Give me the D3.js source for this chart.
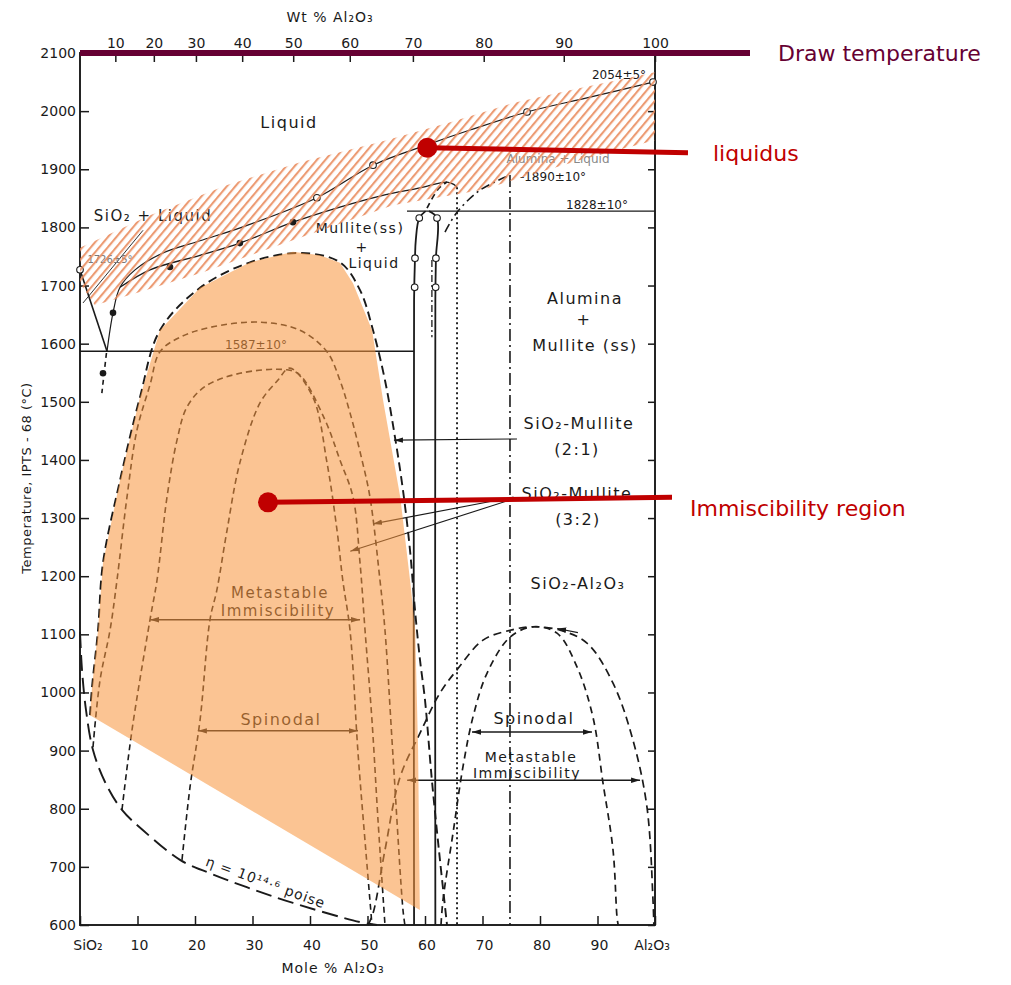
<!DOCTYPE html>
<html><head><meta charset="utf-8">
<script src="https://cdn.jsdelivr.net/npm/d3@7"></script>
<style>
body{margin:0;background:#fff;}
svg{display:block;}
text{font-family:"DejaVu Sans",sans-serif;}
</style></head><body>
<svg id="chart" width="1011" height="985"></svg>
<script>
// ---- Axis values --------------------------------------------------------
const molTicks = [0,10,20,30,40,50,60,70,80,90,100];
const molLabels = ["SiO₂","10","20","30","40","50","60","70","80","90","Al₂O₃"];
const tempTicks = [600,700,800,900,1000,1100,1200,1300,1400,1500,1600,1700,1800,1900,2000,2100];
const wtTicks = [10,20,30,40,50,60,70,80,90,100];

// ---- Curves, as [mol % Al2O3, temperature °C] ----------------------------
const liquidusBand = [[0,1765],[12.2,1821],[25.6,1873],[38.3,1912],[52.2,1947],[64.4,1981],[75.3,2014],[87.0,2040],[100,2067],
  [100,1950],[87.0,1916],[69.6,1864],[54.4,1838],[37.0,1778],[21.4,1723],[10.4,1689],[2.6,1666],[0,1704]];
const aluminaLiquidus = [[99.65,2050],[88.7,2024],[77.74,1998.5],[67.83,1967.5],[60.35,1942],[50.96,1907],[41.2,1851],
  [28.35,1801],[20.87,1777],[14.43,1756],[9.57,1727],[6.96,1697],[5.74,1653],[4.7,1587]];
const mulliteLiquidus = [[6.96,1697],[12.17,1727],[20.87,1752],[27.8,1773],[37.04,1809],[45.2,1835],[52.17,1854],
  [59.13,1868],[63.83,1878],[65.0,1874],[65.57,1869]];
const silicaLiquidus = [[0,1727],[4.7,1587]];
const silicaExtension = [[4.6,1584],[3.8,1515]];
const silicaLeader = [[0.52,1670],[10.96,1795]];
const mulliteMelt = [[60.35,1833],[62.3,1866],[63.83,1878]];
const metastableAlumina = [[63.48,1792],[65.57,1826],[69.57,1864],[74.78,1890]];
const eutectic = [[0,1587],[58.1,1587]];
const peritectic = [[56.87,1828],[100,1828]];
const mulliteLeft = [[60.1,1828],[59.0,1816],[58.4,1778],[58.26,1747],[58.1,1675],[58.1,600]];
const mulliteRight = [[60.7,1828],[62.09,1816],[61.9,1747],[61.8,1675],[61.8,600]];
const mulliteCenter = [[61.2,1744],[61.2,1611]];
const dottedVertical = [[65.57,1869],[65.57,600]];
const dashDotVertical = [[74.78,1890],[74.78,600]];

// immiscibility domes
const dome21 = [[1.74,961],[2.09,1009],[3.13,1107],[4.0,1223],[6.96,1365],[10.43,1508],[13.9,1623],[20.87,1696],
  [29.57,1740],[38.26,1756],[45.2,1740],[48.7,1692],[50.96,1623],[53.04,1537],[54.8,1438],[56.17,1348],[57.39,1245],
  [58.26,1142],[59.13,1056],[60.0,987],[61.2,849],[62.6,712],[63.83,600]];
const dome32 = [[2.26,906],[3.48,1021],[5.22,1107],[6.43,1193],[8.17,1336],[9.9,1451],[12.17,1529],[13.9,1586],
  [17.39,1611],[22.6,1628],[31.3,1637],[38.26,1623],[42.96,1586],[45.2,1537],[46.96,1481],[49.04,1400],[50.43,1336],
  [52.17,1193],[53.04,1107],[54.4,896],[56.17,626],[56.5,600]];
const spinodal21 = [[7.3,798],[9.04,935],[12.17,1125],[13.39,1193],[15.13,1336],[16.87,1434],[18.6,1491],[21.7,1526],
  [27.8,1549],[36.0,1555],[38.26,1546],[42.6,1469],[45.2,1400],[47.48,1336],[48.7,1223],[49.57,1107],[50.78,952],
  [51.83,780],[53.04,600]];
const spinodal32 = [[17.74,712],[19.13,837],[20.87,952],[22.6,1125],[23.8,1176],[25.57,1279],[27.8,1395],[31.3,1498],
  [34.4,1537],[36.5,1558],[40.5,1508],[42.96,1395],[44.7,1279],[45.7,1193],[46.96,1107],[48.35,896],[49.74,724],[50.78,600]];
const binodalAl = [[50.09,600],[50.96,620],[53.04,729],[55.65,854],[59.13,930],[62.6,999],[65.57,1039],[70.09,1090],
  [74.78,1107],[78.78,1113],[83.5,1107],[88.17,1085],[92.7,1016],[96.17,918],[98.6,803],[99.65,643],[99.8,600]];
const spinodalAl = [[62.78,600],[63.13,643],[64.87,758],[66.6,872],[68.35,958],[70.78,1033],[74.78,1095],[78.78,1113],
  [82.96,1102],[86.43,1044],[89.2,958],[90.96,844],[92.7,729],[93.39,614],[93.6,600]];
const isokom = [[0,1104],[0.35,1039],[1.04,970],[2.26,901],[4.35,846],[7.3,798],[10.96,763],[17.39,712],[22.6,689],
  [29.0,665],[37.04,638],[48.7,605],[51.65,600]];
const immiscibleRegion = [[1.74,961],[2.09,1009],[3.13,1107],[4.0,1223],[6.96,1365],[10.43,1508],[13.9,1623],
  [20.87,1696],[29.57,1740],[37.04,1758],[41.74,1752],[45.2,1739],[47.48,1704],[50.8,1623],[52.7,1503],[55.7,1336],
  [57.4,1193],[58.3,1107],[58.8,901],[59.1,626]];

// point markers
const openPoints = [[0,1727],[99.65,2050],[77.74,1998.5],[60.35,1942],[50.96,1907],[41.2,1851],
  [59.0,1816],[58.26,1747],[58.2,1697],[62.09,1816],[61.9,1747],[61.85,1697]];
const solidPoints = [[5.74,1653],[4.0,1549],[15.65,1732],[27.8,1773],[37.04,1809]];

// double-headed dimension arrows [from, to]
const arrows = [
  [[12.17,1125],[48.7,1125]],
  [[20.5,934],[48.35,934]],
  [[68.17,932],[89.04,932]],
  [[56.9,849],[97.4,849]]
];
// label leader lines, arrowhead at the curve end
const leaders = [
  [[76.0,1436],[54.6,1434]],
  [[75.4,1336],[50.96,1290]],
  [[75.4,1333],[47.0,1243]],
  [[86.6,1103],[83.0,1110]]
];

// ---- Layout ------------------------------------------------------------
const svg = d3.select("#chart");
const x = d3.scaleLinear().domain([0,100]).range([80,655]);
const y = d3.scaleLinear().domain([600,2100]).range([925,53]);
const ink = "#1a1a1a";

function wtToMol(w){ const a = w/101.96, s = (100-w)/60.08; return 100*a/(a+s); }

const smooth = d3.line().x(d=>x(d[0])).y(d=>y(d[1])).curve(d3.curveCatmullRom.alpha(0.5));
const straight = d3.line().x(d=>x(d[0])).y(d=>y(d[1]));

const defs = svg.append("defs");
defs.append("marker").attr("id","arr").attr("viewBox","0 0 10 6").attr("refX",10).attr("refY",3)
  .attr("markerWidth",9).attr("markerHeight",6).attr("markerUnits","userSpaceOnUse")
  .attr("orient","auto-start-reverse")
  .append("path").attr("d","M0,0 L10,3 L0,6 Z").attr("fill",ink);
const hatch = defs.append("pattern").attr("id","hatch").attr("patternUnits","userSpaceOnUse")
  .attr("width",6.5).attr("height",6.5).attr("patternTransform","rotate(40)");
hatch.append("rect").attr("width",2.1).attr("height",6.5).attr("fill","#e9895a");

// ---- Frame and axes ------------------------------------------------------
const axisStyle = g => {
  g.select(".domain").remove();
  g.selectAll(".tick line").attr("stroke",ink).attr("stroke-width",1.5);
  g.selectAll(".tick text").attr("fill",ink).style("font-size","14px").style("font-family","DejaVu Sans");
};
svg.append("g").attr("transform","translate(80,0)")
  .call(d3.axisLeft(y).tickValues(tempTicks).tickSize(-9).tickPadding(4).tickFormat(d3.format("d"))).call(axisStyle);
svg.append("g").attr("transform","translate(655,0)")
  .call(d3.axisRight(y).tickValues(tempTicks).tickSize(-7).tickFormat("")).call(axisStyle);
svg.append("g").attr("transform","translate(0,925)")
  .call(d3.axisBottom(x).tickValues(molTicks).tickSize(-9).tickFormat("")).call(axisStyle);
svg.append("g").attr("transform","translate(0,53)")
  .call(d3.axisTop(x).tickValues(wtTicks.map(wtToMol)).tickSize(-9).tickPadding(5).tickFormat((d,i)=>wtTicks[i]))
  .call(axisStyle);

svg.append("g").selectAll("text").data(molTicks).join("text")
  .attr("x",(d,i)=> x(d) + (i===0 ? 8 : i===molTicks.length-1 ? -3 : 2)).attr("y",950)
  .attr("text-anchor","middle").attr("fill",ink).style("font-size","14px")
  .text((d,i)=>molLabels[i]);

svg.append("rect").attr("x",x(0)).attr("y",y(2100)).attr("width",x(100)-x(0)).attr("height",y(600)-y(2100))
  .attr("fill","none").attr("stroke",ink).attr("stroke-width",1.9);

svg.append("text").attr("x",330).attr("y",22).attr("text-anchor","middle").attr("fill",ink)
  .style("font-size","14px").style("letter-spacing","1px").text("Wt % Al₂O₃");
svg.append("text").attr("x",333).attr("y",973).attr("text-anchor","middle").attr("fill",ink)
  .style("font-size","14px").style("letter-spacing","1px").text("Mole % Al₂O₃");
svg.append("text").attr("transform","translate(31,478) rotate(-90)").attr("text-anchor","middle").attr("fill",ink)
  .style("font-size","13px").style("letter-spacing","0.5px").text("Temperature, IPTS - 68 (°C)");

// ---- Phase boundaries ----------------------------------------------------
const lines = svg.append("g").attr("fill","none").attr("stroke",ink);
function draw(data, gen, width, dash){
  lines.append("path").attr("d",gen(data)).attr("stroke-width",width).attr("stroke-dasharray",dash||null);
}
draw(aluminaLiquidus, smooth, 1.2);
draw(mulliteLiquidus, smooth, 1.3);
draw(silicaLiquidus, straight, 1.6);
draw(silicaExtension, straight, 1.6, "5,4");
draw(silicaLeader, straight, 0.9);
draw(mulliteMelt, smooth, 1.7, "6,4");
draw(metastableAlumina, smooth, 1.6, "9,4,2,4");
draw(eutectic, straight, 1.4);
draw(peritectic, straight, 1.4);
draw(mulliteLeft, smooth, 1.8);
draw(mulliteRight, smooth, 1.8);
draw(mulliteCenter, straight, 1.3, "7,3,2,3");
draw(dottedVertical, straight, 1.9, "2,3");
draw(dashDotVertical, straight, 1.6, "12,4,2,4");
draw(dome21, smooth, 1.9, "9,5");
draw(dome32, smooth, 1.6, "6,4");
draw(spinodal21, smooth, 1.6, "6,4");
draw(spinodal32, smooth, 1.6, "6,4");
draw(binodalAl, smooth, 1.7, "8,5");
draw(spinodalAl, smooth, 1.7, "7,5");
draw(isokom, smooth, 1.9, "16,7");

lines.selectAll(".arrow").data(arrows).join("path").attr("class","arrow")
  .attr("d",d=>straight(d)).attr("stroke-width",1.5)
  .attr("marker-start","url(#arr)").attr("marker-end","url(#arr)");
lines.selectAll(".leader").data(leaders).join("path").attr("class","leader")
  .attr("d",d=>straight(d)).attr("stroke-width",1.1).attr("marker-end","url(#arr)");

// ---- Region labels -------------------------------------------------------
const labels = [
  ["Liquid", 289, 128, 16, ink],
  ["SiO₂ + Liquid", 153, 221, 15, ink],
  ["1726±5°", 110, 263, 10, "#777"],
  ["Mullite(ss)", 360, 233, 14, ink],
  ["+", 362, 252, 14, ink],
  ["Liquid", 374, 268, 14, ink],
  ["Alumina + Liquid", 558, 163, 12, "#888"],
  ["-1890±10°", 553, 181, 12, ink],
  ["1828±10°", 597, 209, 12, ink],
  ["2054±5°", 619, 79, 12, ink],
  ["1587±10°", 256, 349, 12, ink],
  ["Alumina", 585, 304, 16, ink],
  ["+", 584, 325, 16, ink],
  ["Mullite (ss)", 585, 351, 16, ink],
  ["SiO₂-Mullite", 579, 429, 16, ink],
  ["(2:1)", 577, 455, 16, ink],
  ["SiO₂-Mullite", 577, 499, 16, ink],
  ["(3:2)", 578, 525, 16, ink],
  ["SiO₂-Al₂O₃", 578, 589, 16, ink],
  ["Metastable", 280, 598, 15, ink],
  ["Immiscibility", 278, 616, 15, ink],
  ["Spinodal", 281, 725, 16, ink],
  ["Spinodal", 534, 724, 16, ink],
  ["Metastable", 531, 762, 14, ink],
  ["Immiscibility", 527, 778, 14, ink]
];
svg.append("g").selectAll("text").data(labels).join("text")
  .attr("x",d=>d[1]).attr("y",d=>d[2]).attr("text-anchor","middle").attr("fill",d=>d[4])
  .style("font-size",d=>d[3]+"px").style("letter-spacing",d=>d[3]>=14 ? "1.5px" : "0px").text(d=>d[0]);
svg.append("text").attr("transform","translate(264,887) rotate(20)").attr("text-anchor","middle")
  .attr("fill",ink).style("font-size","14px").style("letter-spacing","1px").text("η = 10¹⁴·⁶ poise");

// ---- Immiscibility region and liquidus uncertainty band ------------------
svg.append("path").attr("d",straight(immiscibleRegion)+"Z").attr("fill","#f7963f").attr("fill-opacity",0.56);

const markers = svg.append("g");
markers.selectAll("circle.o").data(openPoints).join("circle").attr("class","o")
  .attr("cx",d=>x(d[0])).attr("cy",d=>y(d[1])).attr("r",3.3)
  .attr("fill","#fff").attr("stroke",ink).attr("stroke-width",1.1);
markers.selectAll("circle.s").data(solidPoints).join("circle").attr("class","s")
  .attr("cx",d=>x(d[0])).attr("cy",d=>y(d[1])).attr("r",3.3).attr("fill",ink);

svg.append("path").attr("d",straight(liquidusBand)+"Z").attr("fill","url(#hatch)").attr("opacity",0.85);

// ---- Callouts ------------------------------------------------------------
const drawTemp = 2100;
const liquidusPoint = [60.4, 1937];
const immisciblePoint = [32.7, 1327];
const calloutX = 688;

svg.append("line").attr("x1",x(0)).attr("x2",750).attr("y1",y(drawTemp)).attr("y2",y(drawTemp))
  .attr("stroke","#660033").attr("stroke-width",6);
svg.append("text").attr("x",778).attr("y",y(drawTemp)+8).attr("fill","#660033")
  .style("font-size","22px").text("Draw temperature");

const red = "#c00000";
svg.append("line").attr("x1",x(liquidusPoint[0])).attr("y1",y(liquidusPoint[1]))
  .attr("x2",calloutX).attr("y2",y(liquidusPoint[1])+5).attr("stroke",red).attr("stroke-width",5);
svg.append("circle").attr("cx",x(liquidusPoint[0])).attr("cy",y(liquidusPoint[1])).attr("r",10).attr("fill",red);
svg.append("text").attr("x",713).attr("y",161).attr("fill",red).style("font-size","22px").text("liquidus");

svg.append("line").attr("x1",x(immisciblePoint[0])).attr("y1",y(immisciblePoint[1]))
  .attr("x2",672).attr("y2",y(immisciblePoint[1])-5).attr("stroke",red).attr("stroke-width",5);
svg.append("circle").attr("cx",x(immisciblePoint[0])).attr("cy",y(immisciblePoint[1])).attr("r",10).attr("fill",red);
svg.append("text").attr("x",690).attr("y",516).attr("fill",red).style("font-size","22px").text("Immiscibility region");
</script>
</body></html>
